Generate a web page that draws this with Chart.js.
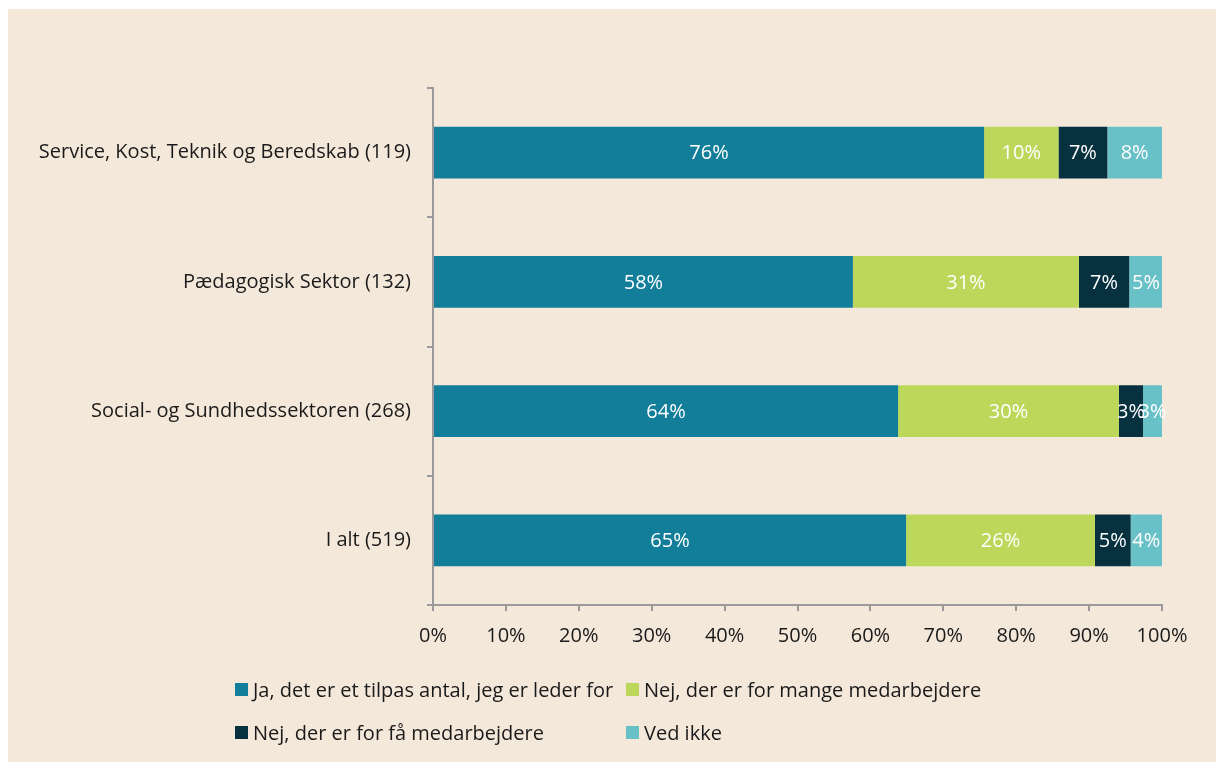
<!DOCTYPE html>
<html>
<head>
<meta charset="utf-8">
<script src="https://cdn.jsdelivr.net/npm/chart.js@4"></script>
<style>
  body { margin: 0; background: #ffffff; }
  #wrap { position: absolute; left: 8px; top: 9px; width: 1208px; height: 753px; background: #F4E8DB; }
  #chart-box { position: absolute; left: 0; top: 0; width: 1208px; height: 753px; }
  #legend { position: absolute; left: 0; top: 0; font-family: "Open Sans", sans-serif; font-size: 20px; color: #1a1a1a; }
  .leg-item { position: absolute; white-space: nowrap; display: flex; align-items: center; }
  .leg-box { width: 13px; height: 13px; margin-right: 5px; }
</style>
</head>
<body>
<div id="wrap">
  <div id="chart-box"><canvas id="myChart"></canvas></div>
  <div id="legend"></div>
</div>
<script>
// DATA
const categories = ['Service, Kost, Teknik og Beredskab (119)', 'Pædagogisk Sektor (132)', 'Social- og Sundhedssektoren (268)', 'I alt (519)'];
const seriesNames = ['Ja, det er et tilpas antal, jeg er leder for', 'Nej, der er for mange medarbejdere', 'Nej, der er for få medarbejdere', 'Ved ikke'];
const jaValues = [75.6, 57.6, 63.8, 64.9];
const mangeValues = [10.2, 31.0, 30.3, 25.9];
const faaValues = [6.7, 6.9, 3.3, 4.9];
const vedIkkeValues = [7.5, 4.6, 2.6, 4.3];
const xTicks = [0, 10, 20, 30, 40, 50, 60, 70, 80, 90, 100];

const colors = ['#127E9A', '#BDD75A', '#07313F', '#68C1C7'];
const axisGray = '#9a9a9a';
const fontFamily = '"Open Sans", sans-serif';

// DRAW PERCENT LABELS INSIDE BARS
const barLabels = {
  id: 'barLabels',
  afterDatasetsDraw(chart) {
    const c = chart.ctx;
    c.save();
    c.fillStyle = '#ffffff';
    c.font = '20px ' + fontFamily;
    c.textAlign = 'center';
    c.textBaseline = 'middle';
    chart.data.datasets.forEach((ds, i) => {
      const meta = chart.getDatasetMeta(i);
      meta.data.forEach((bar, j) => {
        const p = bar.getCenterPoint();
        c.fillText(Math.round(ds.data[j]) + '%', p.x, p.y + 1);
      });
    });
    c.restore();
  }
};

const ctx = document.getElementById('myChart').getContext('2d');
const myChart = new Chart(ctx, {
  type: 'bar',
  data: {
    labels: categories,
    datasets: [jaValues, mangeValues, faaValues, vedIkkeValues].map((vals, i) => ({
      label: seriesNames[i],
      data: vals,
      backgroundColor: colors[i],
      borderWidth: 0,
      barPercentage: 0.4,
      categoryPercentage: 1.0
    }))
  },
  options: {
    indexAxis: 'y',
    responsive: true,
    maintainAspectRatio: false,
    animation: false,
    layout: { padding: { left: 0, top: 79, right: 54, bottom: 107 } },
    plugins: {
      legend: { display: false },
      tooltip: { enabled: false }
    },
    scales: {
      x: {
        stacked: true,
        min: 0,
        max: 100,
        afterBuildTicks: (scale) => { scale.ticks = xTicks.map(v => ({ value: v })); },
        afterFit: (scale) => { scale.height = 50; },
        grid: { drawOnChartArea: false, drawTicks: true, tickLength: 6, color: axisGray, lineWidth: 2 },
        border: { display: true, color: axisGray, width: 2 },
        ticks: {
          color: '#1a1a1a',
          padding: 13,
          maxRotation: 0,
          font: { family: fontFamily, size: 20 },
          callback: (v) => v + '%'
        }
      },
      y: {
        stacked: true,
        afterFit: (scale) => { scale.width = 425; },
        grid: { drawOnChartArea: false, drawTicks: true, tickLength: 6, color: axisGray, lineWidth: 2, offset: true },
        border: { display: true, color: axisGray, width: 2 },
        ticks: {
          color: '#1a1a1a',
          padding: 16,
          font: { family: fontFamily, size: 20 }
        }
      }
    }
  },
  plugins: [barLabels]
});

// HTML LEGEND BUILT FROM THE DATASETS
const legendEl = document.getElementById('legend');
const legendPos = [[227, 680], [618, 680], [227, 723], [618, 723]];
myChart.data.datasets.forEach((ds, i) => {
  const item = document.createElement('div');
  item.className = 'leg-item';
  item.style.left = legendPos[i][0] + 'px';
  item.style.top = (legendPos[i][1] - 13) + 'px';
  item.style.height = '26px';
  const box = document.createElement('span');
  box.className = 'leg-box';
  box.style.background = ds.backgroundColor;
  const txt = document.createElement('span');
  txt.textContent = ds.label;
  item.appendChild(box);
  item.appendChild(txt);
  legendEl.appendChild(item);
});
</script>
</body>
</html>
